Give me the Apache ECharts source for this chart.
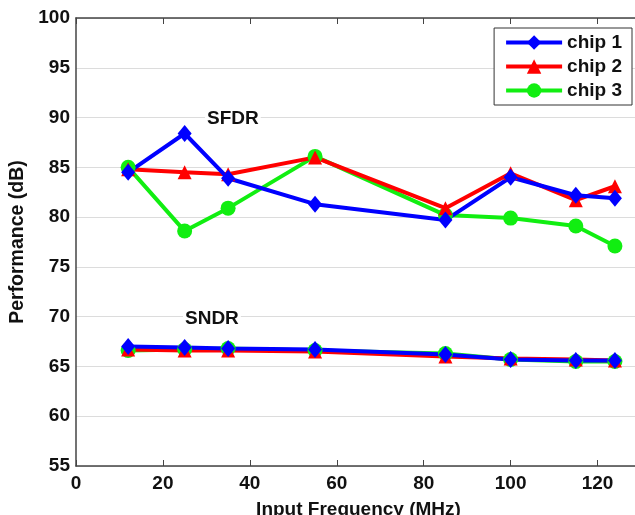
<!DOCTYPE html>
<html>
<head>
<meta charset="utf-8">
<script src="https://cdn.jsdelivr.net/npm/echarts@6/dist/echarts.min.js"></script>
<style>
  html, body { margin: 0; padding: 0; background: #fff; }
  #main { width: 635px; height: 515px; }
</style>
</head>
<body>
<div id="main"></div>
<script>
const freq = [12, 25, 35, 55, 85, 100, 115, 124]
const yTicks = [55, 60, 65, 70, 75, 80, 85, 90, 95, 100]

const sfdrChip1 = [84.5, 88.4, 83.9, 81.3, 79.7, 84.0, 82.2, 81.9]
const sfdrChip2 = [84.8, 84.5, 84.3, 86.0, 80.9, 84.4, 81.7, 83.1]
const sfdrChip3 = [85.0, 78.6, 80.9, 86.1, 80.2, 79.9, 79.1, 77.1]

const sndrChip1 = [67.0, 66.9, 66.8, 66.7, 66.2, 65.7, 65.6, 65.6]
const sndrChip2 = [66.7, 66.6, 66.6, 66.5, 66.0, 65.8, 65.7, 65.6]
const sndrChip3 = [66.6, 66.7, 66.8, 66.6, 66.3, 65.7, 65.5, 65.5]

const chips = [
  { name: 'chip 3', color: '#11ee11', symbol: 'circle', size: 15, sfdr: sfdrChip3, sndr: sndrChip3 },
  { name: 'chip 2', color: '#ff0000', symbol: 'triangle', size: 14, sfdr: sfdrChip2, sndr: sndrChip2 },
  { name: 'chip 1', color: '#0000ff', symbol: 'diamond', size: [14, 17], sfdr: sfdrChip1, sndr: sndrChip1 }
]

const pairs = (vals) => freq.map((f, i) => [f, vals[i]])

const series = []
chips.forEach((c) => {
  ;['sfdr', 'sndr'].forEach((k) => {
    series.push({
      name: c.name,
      type: 'line',
      symbol: c.symbol,
      symbolSize: c.size,
      showAllSymbol: true,
      lineStyle: { color: c.color, width: 4 },
      itemStyle: { color: c.color },
      emphasis: { disabled: true },
      data: pairs(c[k])
    })
  })
})

const font = 'Liberation Sans, Arial, sans-serif'
const chart = echarts.init(document.getElementById('main'))
chart.setOption({
  animation: false,
  grid: { left: 76, top: 18, right: -6, bottom: 49, outerBoundsMode: 'none' },
  legend: {
    data: ['chip 1', 'chip 2', 'chip 3'],
    orient: 'vertical',
    right: 3,
    top: 28,
    width: 137,
    padding: [5, 10, 5, 10],
    itemGap: 5,
    itemWidth: 56,
    itemHeight: 18,
    lineStyle: { width: 4 },
    borderColor: '#333',
    borderWidth: 1,
    backgroundColor: '#fff',
    textStyle: { fontFamily: font, fontWeight: 'bold', fontSize: 19, color: '#111' }
  },
  xAxis: [
    {
      type: 'value',
      min: 0,
      max: 130,
      interval: 20,
      name: 'Input Frequency (MHz)',
      nameLocation: 'middle',
      nameGap: 34,
      nameTextStyle: { fontFamily: font, fontWeight: 'bold', fontSize: 19, color: '#111' },
      axisLine: { lineStyle: { color: '#444', width: 1.5 } },
      axisTick: { inside: true, length: 6, lineStyle: { color: '#444' } },
      axisLabel: {
        fontFamily: font, fontWeight: 'bold', fontSize: 19, color: '#111', margin: 8,
        showMaxLabel: false
      },
      splitLine: { show: false }
    },
    {
      type: 'value',
      position: 'top',
      min: 0,
      max: 130,
      interval: 20,
      axisLine: { lineStyle: { color: '#444', width: 1.5 } },
      axisTick: { inside: true, length: 6, lineStyle: { color: '#444' } },
      axisLabel: { show: false },
      splitLine: { show: false }
    }
  ],
  yAxis: {
    type: 'value',
    min: 55,
    max: 100,
    interval: 5,
    name: 'Performance (dB)',
    nameLocation: 'middle',
    nameGap: 48,
    nameTextStyle: { fontFamily: font, fontWeight: 'bold', fontSize: 19.5, color: '#111' },
    axisLine: { show: true, lineStyle: { color: '#444', width: 1.5 } },
    axisTick: { show: false },
    axisLabel: {
      fontFamily: font, fontWeight: 'bold', fontSize: 19, color: '#111', margin: 6,
      formatter: (v) => (yTicks.includes(v) ? String(v) : '')
    },
    splitLine: { lineStyle: { color: '#dcdcdc', width: 1 } }
  },
  graphic: [
    {
      type: 'text', left: 205, top: 108, z: 1,
      style: { text: 'SFDR', font: 'bold 19px ' + font, fill: '#111', backgroundColor: '#fff', padding: [1, 2] }
    },
    {
      type: 'text', left: 183, top: 308, z: 1,
      style: { text: 'SNDR', font: 'bold 19px ' + font, fill: '#111', backgroundColor: '#fff', padding: [1, 2] }
    }
  ],
  series: series
})
</script>
</body>
</html>
